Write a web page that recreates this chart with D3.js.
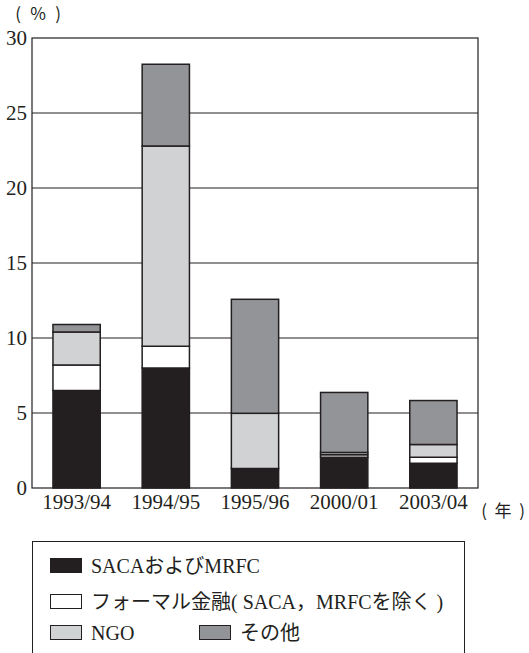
<!DOCTYPE html>
<html>
<head>
<meta charset="utf-8">
<script src="https://cdn.jsdelivr.net/npm/d3@7"></script>
<style>
  body { margin: 0; background: #fff; }
  svg { display: block; }
  text { fill: #231f20; }
  .serif { font-family: "Liberation Serif", "DejaVu Serif", serif; }
  .jp { font-family: "Liberation Serif", "Noto Sans CJK JP", sans-serif; }
  .cjk { font-family: "Noto Sans CJK JP", sans-serif; }
</style>
</head>
<body>
<svg id="chart" width="529" height="653"></svg>
<script>
// data
const years = ['1993/94', '1994/95', '1995/96', '2000/01', '2003/04'];
const seriesNames = ['SACAおよびMRFC', 'フォーマル金融( SACA，MRFCを除く )', 'NGO', 'その他'];
const saca = [6.5, 8.0, 1.3, 2.05, 1.65];
const formal = [1.7, 1.45, 0, 0.17, 0.4];
const ngo = [2.2, 13.35, 3.68, 0.15, 0.85];
const other = [0.5, 5.45, 7.6, 4.0, 2.93];
const yTicks = [0, 5, 10, 15, 20, 25, 30];
const colors = ['#231f20', '#ffffff', '#d1d2d4', '#929497'];

const rows = years.map((y, i) => ({
  year: y, s0: saca[i], s1: formal[i], s2: ngo[i], s3: other[i],
}));

const svg = d3.select('#chart');
const margin = { top: 38, left: 32, right: 51, bottom: 165 };
const width = 529 - margin.left - margin.right;
const height = 653 - margin.top - margin.bottom;
const ink = '#231f20';

const g = svg.append('g').attr('transform', `translate(${margin.left},${margin.top})`);

const x = d3.scaleBand().domain(years).range([0, width]).paddingInner(0.47).paddingOuter(0.235);
const y = d3.scaleLinear().domain([0, 30]).range([height, 0]);

// grid lines
g.selectAll('.grid')
  .data(yTicks.slice(1, -1))
  .enter().append('line')
  .attr('x1', 0).attr('x2', width)
  .attr('y1', d => y(d)).attr('y2', d => y(d))
  .attr('stroke', ink).attr('stroke-width', 1);

// stacked bars
const stack = d3.stack().keys(['s0', 's1', 's2', 's3'])(rows);
g.selectAll('.layer')
  .data(stack)
  .enter().append('g')
  .attr('fill', (d, i) => colors[i])
  .selectAll('rect')
  .data(d => d.filter(p => p[1] - p[0] > 0))
  .enter().append('rect')
  .attr('x', d => x(d.data.year))
  .attr('width', x.bandwidth())
  .attr('y', d => y(d[1]))
  .attr('height', d => y(d[0]) - y(d[1]))
  .attr('stroke', ink).attr('stroke-width', 1.5);

// frame
g.append('rect')
  .attr('width', width).attr('height', height)
  .attr('fill', 'none').attr('stroke', ink).attr('stroke-width', 1.2);

// y axis
const yAxis = g.append('g').call(d3.axisLeft(y).tickValues(yTicks).tickSize(0).tickPadding(5));
yAxis.attr('font-family', null).attr('font-size', null);
yAxis.select('.domain').remove();
yAxis.selectAll('text').attr('class', 'serif').style('font-size', '21px').style('fill', ink);

// x axis
const xAxis = g.append('g').attr('transform', `translate(0,${height})`)
  .call(d3.axisBottom(x).tickSize(0).tickPadding(6));
xAxis.attr('font-family', null).attr('font-size', null);
xAxis.select('.domain').remove();
xAxis.selectAll('text').attr('class', 'serif').style('font-size', '21px').style('fill', ink);

// unit labels, spaced out like full-width brackets
function unitLabel(chars, xs, yy) {
  svg.append('text').attr('class', 'cjk').attr('y', yy)
    .style('font-size', '17px').attr('text-anchor', 'middle')
    .selectAll('tspan').data(chars).enter().append('tspan')
    .attr('x', (d, i) => xs[i])
    .text(d => d);
}
unitLabel(['(', '%', ')'], [18, 38, 58], 20);
unitLabel(['(', '年', ')'], [484, 503, 522], 517);

// legend
const legend = svg.append('g');
legend.append('rect')
  .attr('x', 32.5).attr('y', 541.5).attr('width', 432).attr('height', 130)
  .attr('fill', 'none').attr('stroke', ink).attr('stroke-width', 1);

const legendPos = [
  { x: 50, y: 558 },
  { x: 50, y: 594 },
  { x: 50, y: 625 },
  { x: 199, y: 625 },
];
const items = legend.selectAll('.item')
  .data(seriesNames)
  .enter().append('g')
  .attr('transform', (d, i) => `translate(${legendPos[i].x},${legendPos[i].y})`);
items.append('rect')
  .attr('x', 0.5).attr('y', 0.5).attr('width', 31).attr('height', 14)
  .attr('fill', (d, i) => colors[i])
  .attr('stroke', ink).attr('stroke-width', 1);
items.append('text')
  .attr('class', 'jp')
  .attr('x', 41).attr('y', 15)
  .style('font-size', '20px')
  .text(d => d);
</script>
</body>
</html>
